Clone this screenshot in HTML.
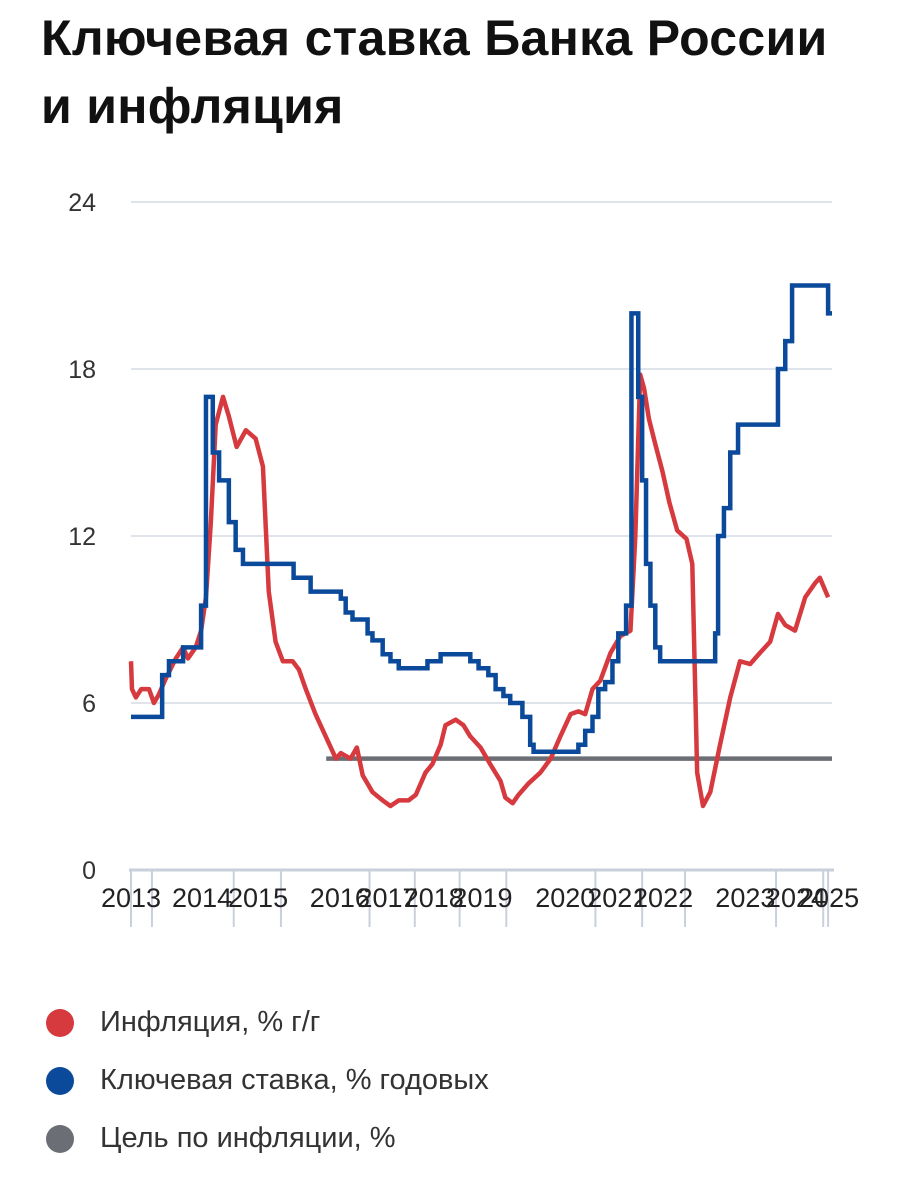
<!DOCTYPE html>
<html lang="ru"><head><meta charset="utf-8">
<style>
body{margin:0;width:898px;height:1200px;background:#fff;font-family:"Liberation Sans","Noto Sans CJK SC",sans-serif;overflow:hidden;position:relative}
h1{position:absolute;left:41px;top:4px;margin:0;font-size:50px;font-weight:bold;line-height:68px;color:#111;letter-spacing:0.3px}
.leg{position:absolute;left:46px;font-size:29px;color:#333;display:flex;align-items:center}
.leg span.dot{width:28px;height:28px;border-radius:50%;display:inline-block;margin-right:26px}
</style></head><body>
<h1>Ключевая ставка Банка России<br>и инфляция</h1>
<svg id="chart" width="898" height="960" style="position:absolute;left:0;top:0"></svg>
<div class="leg" style="top:1006px"><span class="dot" style="background:#d63a3e"></span>Инфляция, % г/г</div>
<div class="leg" style="top:1064px"><span class="dot" style="background:#0b4a9b"></span>Ключевая ставка, % годовых</div>
<div class="leg" style="top:1122px"><span class="dot" style="background:#6b6e75"></span>Цель по инфляции, %</div>
<script>
// months since Jan 2013
const yTicks=[0,6,12,18,24];
const xLabelPos=[0,14.6,26.1,42.9,52.7,62.2,72.2,89.2,99.9,109.3,126.2,136.6,143.4];
const xLabels=["2013","2014","2015","2016","2017","2018","2019","2020","2021","2022","2023","2024","2025"];
const xTickPos=[0,4.3,21.1,30.8,49,58.3,67.5,77.1,95.4,105,113.8,132.5,142.2,143.2];
const rateMonths=[0,6.4,7.8,10.7,14.4,15.4,16.8,18.1,20.1,21.5,23,33.4,36.9,43.1,44.1,45.5,48.6,49.6,51.7,53.3,55,60.9,63.6,69.7,71.4,73.4,74.9,76.5,77.9,80.4,82,82.7,91.9,93.3,94.8,96,97.4,98.9,100.1,101.7,102.8,104.2,105,105.8,106.7,107.7,108.7,120,120.6,121.8,123.1,124.7,132.9,134.4,135.8,143.2,144];
const rateValues=[5.5,7,7.5,8,9.5,17,15,14,12.5,11.5,11,10.5,10,9.75,9.25,9,8.5,8.25,7.75,7.5,7.25,7.5,7.75,7.5,7.25,7,6.5,6.25,6,5.5,4.5,4.25,4.5,5,5.5,6.5,6.75,7.5,8.5,9.5,20,17,14,11,9.5,8,7.5,8.5,12,13,15,16,18,19,21,20,20];
const inflMonths=[0,0.2,1,2.1,3.7,4.7,5.7,7.2,9.2,10.7,11.7,13.3,14.4,15.4,16.4,17.4,18.9,20.1,21.7,23.6,25.6,27.1,28.3,29.7,31.2,33.2,34.5,35.9,37.9,40,42.1,43.1,45.1,46.4,47.6,49.6,51.7,53.3,55,57,58.5,60.5,61.9,63.6,64.6,66.7,68.3,69.7,71.8,73.8,75.9,76.9,78.4,79.6,81.6,84.1,86.2,88.2,90.3,91.9,93.3,94.8,96.4,98.5,100.5,102.6,103.6,104.6,105.4,106.4,107.7,109.2,110.6,112.2,114.1,115.3,116.3,117.5,119,121,123.1,125.1,127.2,129.2,131.3,132.9,134.4,136.4,138.5,140.5,141.5,143.2];
const inflValues=[7.5,6.5,6.2,6.5,6.5,6,6.3,6.9,7.6,8,7.6,8,8.6,9.8,12.5,16,17,16.3,15.2,15.8,15.5,14.5,10,8.2,7.5,7.5,7.2,6.5,5.6,4.8,4.0,4.2,4.0,4.4,3.4,2.8,2.5,2.3,2.5,2.5,2.7,3.5,3.8,4.5,5.2,5.4,5.2,4.8,4.4,3.8,3.2,2.6,2.4,2.7,3.1,3.5,4.0,4.8,5.6,5.7,5.6,6.5,6.8,7.8,8.4,8.6,12,17.8,17.3,16.2,15.3,14.3,13.2,12.2,11.9,11,3.5,2.3,2.8,4.5,6.2,7.5,7.4,7.8,8.2,9.2,8.8,8.6,9.8,10.3,10.5,9.8];
const targetMonths=[40.1,144];
const targetValues=[4,4];

const NS="http://www.w3.org/2000/svg";
const svg=document.getElementById('chart');
const X0=131,X1=832,Y0=870,Y1=202,M=144,YMAX=24;
const xs=m=>X0+(X1-X0)*m/M;
const ys=v=>Y0-(Y0-Y1)*v/YMAX;
function mk(t,a){const e=document.createElementNS(NS,t);for(const k in a)e.setAttribute(k,a[k]);svg.appendChild(e);return e;}
yTicks.forEach(v=>{
  if(v>0){const g=mk('line',{x1:X0,x2:X1,y1:ys(v),y2:ys(v),stroke:'#dfe3ea','stroke-width':2});
  
  }
  const t=mk('text',{x:96,y:ys(v)+9,'text-anchor':'end','font-size':25,fill:'#333','font-family':'Liberation Sans, sans-serif'});
  t.textContent=v;
  
  
});
const ax=mk('line',{x1:X0-2,x2:X1+2,y1:Y0,y2:Y0,stroke:'#c9d0dc','stroke-width':3});


xTickPos.forEach((m,i)=>{
  const l=mk('line',{x1:xs(m),x2:xs(m),y1:Y0,y2:927,stroke:'#c9d0dc','stroke-width':2});
  
  
});
xLabels.forEach((s,i)=>{
  const t=mk('text',{x:xs(xLabelPos[i]),y:907,'text-anchor':'middle','font-size':27,fill:'#222','font-family':'Liberation Sans, sans-serif',transform:'',textLength:'',});
  t.removeAttribute('transform');t.removeAttribute('textLength');
  t.textContent=s;
  
  
});
const tg=mk('polyline',{points:targetMonths.map((m,i)=>xs(m)+','+ys(targetValues[i])).join(' '),fill:'none',stroke:'#6b6e75','stroke-width':4.5});


const inf=mk('polyline',{points:inflMonths.map((m,i)=>xs(m)+','+ys(inflValues[i])).join(' '),fill:'none',stroke:'#d63a3e','stroke-width':4.5,'stroke-linejoin':'round'});


let pts=[];
rateMonths.forEach((m,i)=>{
  if(i>0)pts.push(xs(m)+','+ys(rateValues[i-1]));
  pts.push(xs(m)+','+ys(rateValues[i]));
});
const kr=mk('polyline',{points:pts.join(' '),fill:'none',stroke:'#0b4a9b','stroke-width':4.5,'stroke-linejoin':'miter'});


</script>
</body></html>
